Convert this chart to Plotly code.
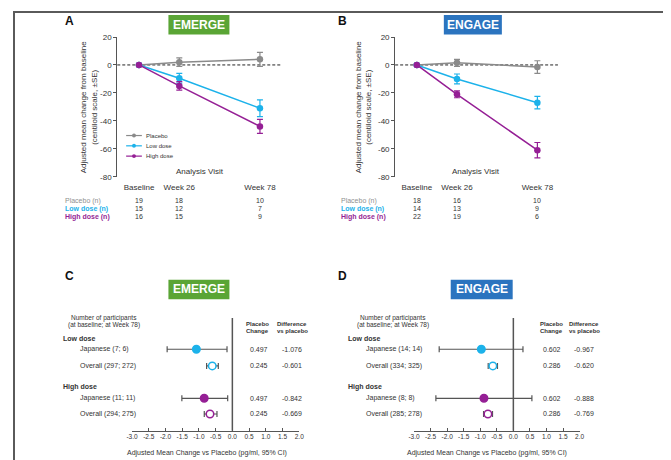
import plotly.graph_objects as go

# ---------------- data ----------------
visits = [0, 26, 78]
visit_labels = ["Baseline", "Week 26", "Week 78"]

emerge_placebo = [0, 2.0, 4.0]
emerge_placebo_se = [0, 3.0, 5.0]
emerge_low = [0, -9.5, -31.0]
emerge_low_se = [0, 3.5, 6.0]
emerge_high = [0, -15.0, -44.0]
emerge_high_se = [0, 3.0, 5.0]

engage_placebo = [0, 1.5, -1.5]
engage_placebo_se = [0, 2.5, 4.5]
engage_low = [0, -10.0, -27.0]
engage_low_se = [0, 3.5, 4.5]
engage_high = [0, -21.0, -61.0]
engage_high_se = [0, 2.5, 5.5]

emerge_n_placebo = [19, 18, 10]
emerge_n_low = [15, 12, 7]
emerge_n_high = [16, 15, 9]
engage_n_placebo = [18, 16, 10]
engage_n_low = [14, 13, 9]
engage_n_high = [22, 19, 6]

forest_rows = ["Japanese low", "Overall low", "Japanese high", "Overall high"]
emerge_labels = ["Japanese (7; 6)", "Overall (297; 272)", "Japanese (11; 11)", "Overall (294; 275)"]
emerge_diff = [-1.076, -0.601, -0.842, -0.669]
emerge_lo = [-1.95, -0.77, -1.51, -0.84]
emerge_hi = [-0.16, -0.42, -0.14, -0.46]
emerge_pbo = ["0.497", "0.245", "0.497", "0.245"]
emerge_diff_txt = ["-1.076", "-0.601", "-0.842", "-0.669"]

engage_labels = ["Japanese (14; 14)", "Overall (334; 325)", "Japanese (8; 8)", "Overall (285; 278)"]
engage_diff = [-0.967, -0.620, -0.888, -0.769]
engage_lo = [-2.24, -0.76, -2.34, -0.90]
engage_hi = [0.29, -0.48, 0.56, -0.63]
engage_pbo = ["0.602", "0.286", "0.602", "0.286"]
engage_diff_txt = ["-0.967", "-0.620", "-0.888", "-0.769"]

forest_ticks = [-3.0, -2.5, -2.0, -1.5, -1.0, -0.5, 0.0, 0.5, 1.0, 1.5, 2.0]
y_ticks = [-80, -60, -40, -20, 0, 20]

# ---------------- styling / layout constants ----------------
W, H = 671, 460
FONT = "Liberation Sans, Arial, sans-serif"
C_PBO = "#8a8a8a"
C_LOW = "#1cb2ea"
C_HIGH = "#951f95"
C_TXT = "#333333"
C_CI = "#555555"
GREEN = "#5aa535"
BLUE = "#2b74bf"

def X(px):
    return px / W

def Y(py):
    return 1 - py / H

# forest row vertical positions (y-axis units = pixels above the x axis line)
ROW_POS = [83, 66, 33, 17]

fig = go.Figure()

def add_lines(xa, ya, series):
    for name, vals, se, col in series:
        fig.add_trace(go.Scatter(
            x=visits, y=vals, name=name, mode="lines+markers",
            line=dict(color=col, width=1.5),
            marker=dict(color=col, size=6.5, symbol="circle"),
            error_y=dict(type="data", array=se, color=col, thickness=1.2, width=3),
            xaxis=xa, yaxis=ya, showlegend=False))

add_lines("x", "y", [("Placebo", emerge_placebo, emerge_placebo_se, C_PBO),
                     ("Low dose", emerge_low, emerge_low_se, C_LOW),
                     ("High dose", emerge_high, emerge_high_se, C_HIGH)])
add_lines("x2", "y2", [("Placebo", engage_placebo, engage_placebo_se, C_PBO),
                       ("Low dose", engage_low, engage_low_se, C_LOW),
                       ("High dose", engage_high, engage_high_se, C_HIGH)])

def add_forest(xa, ya, diff, lo, hi):
    cols = [C_LOW, C_LOW, C_HIGH, C_HIGH]
    fills = [C_LOW, "white", C_HIGH, "white"]
    for i in range(4):
        fig.add_trace(go.Scatter(
            x=[diff[i]], y=[ROW_POS[i]], mode="markers",
            marker=dict(color=fills[i], size=7.5, line=dict(color=cols[i], width=1.5)),
            error_x=dict(type="data", array=[hi[i] - diff[i]], arrayminus=[diff[i] - lo[i]],
                         color=C_CI, thickness=1.2, width=3),
            xaxis=xa, yaxis=ya, showlegend=False))

add_forest("x3", "y3", emerge_diff, emerge_lo, emerge_hi)
add_forest("x4", "y4", engage_diff, engage_lo, engage_hi)

line_x = dict(range=[-14, 91.3], tickvals=visits, ticktext=visit_labels, showline=False,
              ticks="", showgrid=False, zeroline=False, tickfont=dict(size=8, color=C_TXT),
              ticklabelstandoff=4)
line_y = dict(range=[-80, 20], tickvals=y_ticks, ticktext=[str(v) for v in y_ticks],
              showline=True, linecolor="#555555", linewidth=1, ticks="outside", ticklen=3,
              tickcolor="#555555", showgrid=False, zeroline=False,
              tickfont=dict(size=8, color=C_TXT))
forest_x = dict(range=[-3, 2], tickvals=forest_ticks, ticktext=["%.1f" % v for v in forest_ticks],
                showline=True, linecolor="#555555", linewidth=1, ticks="inside", ticklen=3,
                tickcolor="#555555", showgrid=False, zeroline=False,
                tickfont=dict(size=6.5, color=C_TXT))
forest_y = dict(range=[0, 115], visible=False)

fig.update_layout(
    width=W, height=H, margin=dict(l=0, r=0, t=0, b=0),
    paper_bgcolor="white", plot_bgcolor="rgba(0,0,0,0)",
    font=dict(family=FONT, color=C_TXT),
    xaxis=dict(domain=[X(105), X(271)], anchor="y", **line_x),
    yaxis=dict(domain=[Y(168), Y(25.5)], anchor="x", **line_y),
    xaxis2=dict(domain=[X(387.5), X(553)], anchor="y2", **line_x),
    yaxis2=dict(domain=[Y(168), Y(25.5)], anchor="x2", **line_y),
    xaxis3=dict(domain=[X(120), X(290)], anchor="y3", **forest_x),
    yaxis3=dict(domain=[Y(427), Y(312)], anchor="x3", **forest_y),
    xaxis4=dict(domain=[X(406.7), X(575)], anchor="y4", **forest_x),
    yaxis4=dict(domain=[Y(427), Y(312)], anchor="x4", **forest_y),
)

shapes = []
anns = []

def text(x, y, s, size=7, color=C_TXT, xanchor="center", bold=False, angle=0, xref="paper", yref="paper"):
    if bold:
        s = "<b>" + s + "</b>"
    anns.append(dict(x=x, y=y, xref=xref, yref=yref, text=s, showarrow=False,
                     xanchor=xanchor, yanchor="middle", textangle=angle,
                     font=dict(size=size, color=color, family=FONT)))

# outer frame
shapes.append(dict(type="rect", xref="paper", yref="paper", x0=0, x1=1, y0=0, y1=1,
                   line=dict(color="#5a5a5a", width=2), layer="above"))

# dashed zero lines
for xa, ya in [("x", "y"), ("x2", "y2")]:
    shapes.append(dict(type="line", xref=xa + " domain", yref=ya, x0=0, x1=1, y0=0, y1=0,
                       line=dict(color="#222222", width=1, dash="3px,2px"), layer="below"))
# forest null lines
for xa, ya in [("x3", "y3"), ("x4", "y4")]:
    shapes.append(dict(type="line", xref=xa, yref=ya + " domain", x0=0, x1=0, y0=0, y1=1,
                       line=dict(color="#555555", width=1.5), layer="below"))

# title boxes
def title_box(x0, x1, y0, y1, label, color):
    shapes.append(dict(type="rect", xref="paper", yref="paper", x0=X(x0), x1=X(x1),
                       y0=Y(y1), y1=Y(y0), fillcolor=color, line=dict(width=0)))
    text(X((x0 + x1) / 2), Y((y0 + y1) / 2), label, size=12, color="white", bold=True)

title_box(157, 219, 3, 23, "EMERGE", GREEN)
title_box(437, 496, 3, 23, "ENGAGE", BLUE)
title_box(157, 219, 273, 293, "EMERGE", GREEN)
title_box(444, 507, 273, 293, "ENGAGE", BLUE)

# panel letters
for lx, ly, lt in [(56, 9, "A"), (334, 9, "B"), (56, 269, "C"), (334, 269, "D")]:
    text(X(lx), Y(ly), lt, size=12, color="#111111", bold=True)

# y axis titles
ytitle = "Adjusted mean change from baseline<br>(centiloid scale, ±SE)"
text(X(75.5), Y(97), ytitle, size=8, angle=-90)
text(X(355), Y(97), ytitle, size=8, angle=-90)

# analysis visit
text(X(189), Y(163), "Analysis Visit", size=8)
text(X(470), Y(163), "Analysis Visit", size=8)

# legend (panel A)
for i, (nm, col) in enumerate([("Placebo", C_PBO), ("Low dose", C_LOW), ("High dose", C_HIGH)]):
    py = 126 + i * 10.5
    shapes.append(dict(type="line", xref="paper", yref="paper", x0=X(114), x1=X(130),
                       y0=Y(py), y1=Y(py), line=dict(color=col, width=1.2)))
    shapes.append(dict(type="circle", xref="paper", yref="paper", x0=X(120), x1=X(124),
                       y0=Y(py + 2), y1=Y(py - 2), fillcolor=col, line=dict(color=col, width=0)))
    text(X(132), Y(py), nm, size=6, xanchor="left")

# n tables
def n_table(xa, lab_x, rows):
    for j, (lab, vals, col, bold) in enumerate(rows):
        py = 192.7 + j * 8
        text(X(lab_x), Y(py), lab, size=7, color=col, xanchor="left", bold=bold)
        for v, n in zip(visits, vals):
            anns.append(dict(x=v, y=Y(py), xref=xa, yref="paper", text=str(n), showarrow=False,
                             xanchor="center", yanchor="middle",
                             font=dict(size=7, color=C_TXT, family=FONT)))

n_table("x", 50, [("Placebo (n)", emerge_n_placebo, "#8f8f8f", False),
                  ("Low dose (n)", emerge_n_low, C_LOW, True),
                  ("High dose (n)", emerge_n_high, C_HIGH, True)])
n_table("x2", 330, [("Placebo (n)", engage_n_placebo, "#8f8f8f", False),
                    ("Low dose (n)", engage_n_low, C_LOW, True),
                    ("High dose (n)", engage_n_high, C_HIGH, True)])

# forest annotations
def forest_text(ya, hdr_x, grp_x, lab_x, pbo_x, dif_x, labels, pbo, diff_txt):
    text(X(hdr_x), Y(312), "Number of participants", size=6.5)
    text(X(hdr_x), Y(319.5), "(at baseline; at Week 78)", size=6.5)
    text(X(pbo_x), Y(318), "Placebo", size=6, bold=True)
    text(X(pbo_x), Y(325), "Change", size=6, bold=True)
    text(X(dif_x), Y(318), "Difference", size=6, bold=True)
    text(X(dif_x), Y(325), "vs placebo", size=6, bold=True)
    text(X(grp_x), 94, "Low dose", size=7, xanchor="left", bold=True, yref=ya)
    text(X(grp_x), 45, "High dose", size=7, xanchor="left", bold=True, yref=ya)
    for i in range(4):
        text(X(lab_x), ROW_POS[i], labels[i], size=7, xanchor="left", yref=ya)
        text(X(pbo_x + 1), ROW_POS[i], pbo[i], size=7, yref=ya)
        text(X(dif_x), ROW_POS[i], diff_txt[i], size=7, yref=ya)

forest_text("y3", 92, 48, 65, 248, 283, emerge_labels, emerge_pbo, emerge_diff_txt)
forest_text("y4", 385, 337.5, 355.5, 546, 580, engage_labels, engage_pbo, engage_diff_txt)

text(X(196), Y(450), "Adjusted Mean Change vs Placebo (pg/ml, 95% CI)", size=7)
text(X(481), Y(450), "Adjusted Mean Change vs Placebo (pg/ml, 95% CI)", size=7)

fig.update_layout(shapes=shapes, annotations=anns)
fig.write_html("out.html")
